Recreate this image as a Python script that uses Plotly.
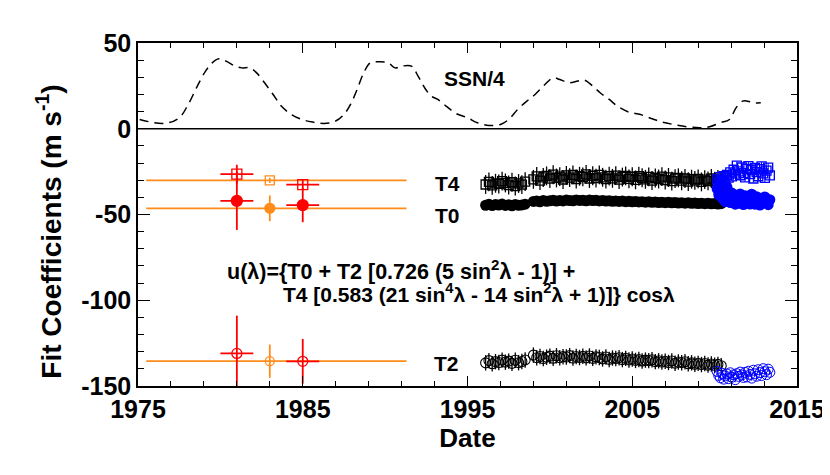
import plotly.graph_objects as go

# ---------------- data ----------------
ssn_year = [1975.1, 1976.6, 1977.5, 1978.05, 1978.6, 1979.1, 1979.5, 1979.9, 1980.35, 1980.9,
            1981.3, 1981.8, 1982.2, 1982.6, 1983.2, 1983.7, 1984.3, 1984.95, 1985.6, 1986.3,
            1987.0, 1987.5, 1987.9, 1988.3, 1988.7, 1989.1, 1989.7, 1990.2, 1990.6, 1991.0,
            1991.6, 1992.0, 1992.4, 1992.8, 1993.2, 1993.7, 1994.3, 1995.0, 1995.6, 1996.3,
            1997.0, 1997.5, 1998.05, 1998.6, 1999.1, 1999.7, 2000.2, 2000.6, 2001.2, 2001.7,
            2002.1, 2002.6, 2003.05, 2003.6, 2004.1, 2004.8, 2005.5, 2006.2, 2006.8, 2007.5,
            2008.3, 2009.1, 2009.7, 2010.35, 2010.9, 2011.3, 2011.7, 2012.0, 2012.4, 2012.8]
ssn_quarter = [5.4, 3.1, 6.4, 14.2, 24.9, 33.6, 38.4, 40.8, 39.4, 36.5,
               35.5, 35.5, 32.6, 27.8, 20.0, 13.2, 8.3, 5.4, 3.9, 3.1,
               4.5, 8.3, 14.2, 22.9, 32.6, 38.4, 39.0, 38.4, 35.5, 36.5,
               36.5, 30.7, 23.9, 19.0, 17.1, 13.2, 8.9, 6.4, 3.5, 1.9,
               2.5, 5.4, 11.3, 16.1, 20.0, 25.8, 29.7, 28.7, 26.8, 27.8,
               28.3, 24.9, 21.0, 17.1, 13.2, 9.7, 8.3, 5.8, 3.9, 2.5,
               1.2, 0.6, 1.2, 3.5, 5.4, 12.2, 16.1, 16.1, 15.1, 15.1]

# early ground-based fits (red) and their mean (orange)
red_year = [1981.0, 1985.0]
red_year_err = [1.0, 1.0]
red_t4 = [-26.5, -32.6]
red_t4_err = [5.5, 3.0]
red_t0 = [-42.0, -44.5]
red_t0_err = [17.0, 10.0]
red_t2 = [-131.0, -135.6]
red_t2_err = [22.0, 13.0]

orange_year = [1983.0]
orange_t4 = [-30.1]
orange_t4_err = [1.5]
orange_t0 = [-46.4]
orange_t0_err = [7.5]
orange_t2 = [-135.5]
orange_t2_err = [9.7]
orange_span = [1975.5, 1991.3]

# MDI (black)
mdi_year = [1996.1, 1996.3, 1996.5, 1996.7, 1996.9, 1997.1, 1997.3, 1997.5, 1997.7, 1997.9,
            1998.1, 1998.3, 1998.5,
            1999.0, 1999.2, 1999.4, 1999.6, 1999.8, 2000.0, 2000.2, 2000.4, 2000.6, 2000.8,
            2001.0, 2001.2, 2001.4, 2001.6, 2001.8, 2002.0, 2002.2, 2002.4, 2002.6, 2002.8,
            2003.0, 2003.2, 2003.4, 2003.6, 2003.8, 2004.0, 2004.2, 2004.4, 2004.6, 2004.8,
            2005.0, 2005.2, 2005.4, 2005.6, 2005.8, 2006.0, 2006.2, 2006.4, 2006.6, 2006.8,
            2007.0, 2007.2, 2007.4, 2007.6, 2007.8, 2008.0, 2008.2, 2008.4, 2008.6, 2008.8,
            2009.0, 2009.2, 2009.4, 2009.6, 2009.8, 2010.0, 2010.2, 2010.4]
mdi_t4 = [-32.5, -31.0, -33.0, -31.8, -32.2, -30.5, -31.6, -32.8, -31.2, -33.4,
          -31.9, -32.6, -30.8,
          -29.5, -27.8, -30.2, -28.4, -27.5, -29.1, -26.8, -28.7, -27.9, -29.6,
          -27.2, -28.5, -26.9, -29.3, -27.7, -28.1, -26.6, -29.0, -27.4, -28.8,
          -26.9, -28.3, -29.4, -27.6, -28.9, -27.3, -29.7, -28.2, -27.5, -29.2,
          -28.0, -29.8, -27.7, -28.6, -29.5, -28.1, -30.2, -28.7, -29.3, -27.9,
          -29.9, -28.4, -30.5, -29.1, -28.6, -30.3, -29.0, -30.8, -29.4, -30.1,
          -29.2, -31.0, -29.7, -30.4, -29.0, -30.6, -29.5, -30.9]
mdi_t0 = [-44.6, -44.0, -44.8, -44.2, -44.5, -43.9, -44.7, -44.3, -44.9, -44.1,
          -44.6, -44.4, -44.0,
          -42.4, -42.1, -42.6, -41.9, -42.3, -42.0, -41.7, -42.2, -41.8, -42.1,
          -41.6, -41.9, -42.0, -41.5, -41.8, -41.7, -42.0, -41.6, -41.9, -41.7,
          -42.1, -41.8, -42.2, -42.0, -42.3, -42.1, -42.4, -42.2, -42.5, -42.3,
          -42.6, -42.4, -42.7, -42.5, -42.8, -42.6, -42.9, -42.7, -43.0, -42.8,
          -43.1, -42.9, -43.2, -43.0, -43.3, -43.1, -43.4, -43.2, -43.5, -43.3,
          -43.6, -43.4, -43.7, -43.5, -43.8, -43.6, -43.9, -43.7]
mdi_t2 = [-136.5, -135.2, -137.0, -135.8, -136.3, -134.9, -136.1, -135.5, -136.8, -135.0,
          -136.4, -135.7, -134.8,
          -132.0, -133.5, -132.8, -134.0, -133.2, -132.6, -133.8, -132.4, -133.5, -132.9,
          -133.1, -132.3, -133.7, -132.8, -133.4, -132.7, -133.6, -132.5, -133.9, -133.0,
          -133.4, -134.2, -133.1, -134.5, -133.7, -134.0, -133.5, -134.6, -133.9, -134.8,
          -134.3, -135.1, -134.6, -135.4, -134.9, -135.2, -134.7, -135.8, -135.3, -136.0,
          -135.6, -136.3, -135.4, -136.7, -136.0, -136.4, -135.9, -137.0, -136.5, -137.3,
          -136.8, -137.5, -136.9, -137.8, -137.2, -137.9, -137.4, -138.2]
mdi_t4_err = 5.5
mdi_t2_err = 4.5

# HMI (blue)
hmi_year = [2010.15, 2010.25, 2010.35, 2010.45, 2010.55, 2010.65, 2010.75, 2010.85, 2010.95, 2011.05,
            2011.15, 2011.25, 2011.35, 2011.45, 2011.55, 2011.65, 2011.75, 2011.85, 2011.95, 2012.05,
            2012.15, 2012.25, 2012.35, 2012.45, 2012.55, 2012.65, 2012.75, 2012.85, 2012.95, 2013.05,
            2013.15, 2013.25, 2013.35]
hmi_t4 = [-29.5, -31.0, -28.2, -30.4, -27.6, -29.8, -26.9, -28.5, -25.4, -27.8,
          -23.9, -26.2, -21.5, -24.8, -27.1, -22.6, -25.9, -28.3, -23.4, -21.8,
          -26.5, -24.1, -29.0, -22.9, -25.3, -27.7, -23.6, -21.9, -26.0, -28.6,
          -24.4, -22.7, -27.2]
hmi_t0 = [-35.0, -38.5, -32.5, -40.5, -36.0, -42.5, -34.0, -39.5, -43.0, -37.5,
          -41.0, -44.0, -40.0, -43.5, -38.0, -41.5, -44.2, -39.0, -42.8, -40.5,
          -43.9, -38.2, -41.2, -44.0, -39.6, -42.3, -44.5, -40.8, -43.0, -39.8,
          -42.0, -44.3, -41.4]
hmi_t2 = [-141.5, -143.8, -145.2, -142.6, -146.0, -144.1, -143.0, -145.7, -142.3, -144.9,
          -143.5, -146.3, -142.8, -144.4, -141.9, -143.6, -145.0, -142.1, -144.7, -141.4,
          -143.2, -145.4, -140.8, -142.9, -144.3, -140.5, -142.2, -143.9, -139.9, -141.7,
          -143.4, -140.2, -142.0]
hmi_t4_err = 2.5
hmi_t2_err = 1.5

x_ticks = [1975, 1985, 1995, 2005, 2015]
y_ticks = [50, 0, -50, -100, -150]

# ---------------- figure ----------------
FONT = "Liberation Sans, Arial, Helvetica, sans-serif"
RED = "#FF0000"
ORANGE = "#FF8C1A"
BLUE = "#0000FF"

fig = go.Figure()

# SSN/4
fig.add_trace(go.Scatter(x=ssn_year, y=ssn_quarter, mode="lines",
                         line=dict(color="black", width=1.5, dash="9px,6px"),
                         line_shape="spline"))

# orange mean lines
for yy in (orange_t4, orange_t0, orange_t2):
    fig.add_trace(go.Scatter(x=orange_span, y=[yy[0], yy[0]], mode="lines",
                             line=dict(color=ORANGE, width=1.8)))

# MDI black
fig.add_trace(go.Scatter(x=mdi_year, y=mdi_t4, mode="markers",
                         marker=dict(symbol="square-open", size=9, color="black", line=dict(width=1.3)),
                         error_y=dict(type="constant", value=mdi_t4_err, color="black", thickness=1.3, width=0)))
fig.add_trace(go.Scatter(x=mdi_year, y=mdi_t0, mode="markers",
                         marker=dict(symbol="circle", size=11, color="black")))
fig.add_trace(go.Scatter(x=mdi_year, y=mdi_t2, mode="markers",
                         marker=dict(symbol="circle-open", size=10, color="black", line=dict(width=1.1)),
                         error_y=dict(type="constant", value=mdi_t2_err, color="black", thickness=1.3, width=0)))

# HMI blue
fig.add_trace(go.Scatter(x=hmi_year, y=hmi_t4, mode="markers",
                         marker=dict(symbol="square-open", size=9, color=BLUE, line=dict(width=1.3)),
                         error_y=dict(type="constant", value=hmi_t4_err, color=BLUE, thickness=1, width=0)))
fig.add_trace(go.Scatter(x=hmi_year, y=hmi_t0, mode="markers",
                         marker=dict(symbol="circle", size=11, color=BLUE)))
fig.add_trace(go.Scatter(x=hmi_year, y=hmi_t2, mode="markers",
                         marker=dict(symbol="circle-open", size=10, color=BLUE, line=dict(width=1)),
                         error_y=dict(type="constant", value=hmi_t2_err, color=BLUE, thickness=1, width=0)))

# orange points
for yy, ee, sym in ((orange_t4, orange_t4_err, "square-open"),
                    (orange_t0, orange_t0_err, "circle"),
                    (orange_t2, orange_t2_err, "circle-open")):
    fig.add_trace(go.Scatter(x=orange_year, y=yy, mode="markers",
                             marker=dict(symbol=sym, size=9 if sym != "circle" else 10, color=ORANGE,
                                         line=dict(width=1.3, color=ORANGE)),
                             error_y=dict(type="data", array=ee, color=ORANGE, thickness=1.8, width=0)))

# red points
for yy, ee, sym in ((red_t4, red_t4_err, "square-open"),
                    (red_t0, red_t0_err, "circle"),
                    (red_t2, red_t2_err, "circle-open")):
    fig.add_trace(go.Scatter(x=red_year, y=yy, mode="markers",
                             marker=dict(symbol=sym, size=10 if sym != "circle" else 11, color=RED,
                                         line=dict(width=1.3, color=RED)),
                             error_y=dict(type="data", array=ee, color=RED, thickness=1.8, width=0),
                             error_x=dict(type="data", array=red_year_err, color=RED, thickness=1.8, width=0)))

# zero line separating panels
fig.add_shape(type="line", xref="paper", x0=0, x1=1, yref="y", y0=0, y1=0,
              line=dict(color="black", width=1.5))

txt = dict(family=FONT, size=21, color="black", weight="bold")
fig.add_annotation(x=1995.4, y=29.3, text="SSN/4", showarrow=False, font=txt)
fig.add_annotation(x=1993.8, y=-31.7, text="T4", showarrow=False, font=txt)
fig.add_annotation(x=1993.8, y=-50.3, text="T0", showarrow=False, font=txt)
fig.add_annotation(x=1993.7, y=-136.6, text="T2", showarrow=False, font=txt)
fig.add_annotation(x=1980.3, y=-82.5, xanchor="left",
                   text="u(λ)={T0 + T2 [0.726 (5 sin<sup>2</sup>λ - 1)] +",
                   showarrow=False, font=dict(family=FONT, size=21.5, color="black", weight="bold"))
fig.add_annotation(x=1983.65, y=-95.5, xanchor="left",
                   text="T4 [0.583 (21 sin<sup>4</sup>λ - 14 sin<sup>2</sup>λ + 1)]} cosλ",
                   showarrow=False, font=txt)

# y-axis title (placed as in the reference, slightly below centre)
fig.add_annotation(xref="paper", yref="paper", x=-0.135, y=0.45, xanchor="center", yanchor="middle",
                   textangle=-90, text="Fit Coefficients (m s<sup>-1</sup>)", showarrow=False,
                   font=dict(family=FONT, size=28, color="black", weight="bold"))

axis_common = dict(showline=True, linecolor="black", linewidth=1.5, mirror="ticks",
                   ticks="inside", tickcolor="black", tickwidth=1.2, showgrid=False, zeroline=False,
                   automargin=False,
                   tickfont=dict(family=FONT, size=25, color="black", weight="bold"))

fig.update_xaxes(range=[1975, 2015], tickvals=x_ticks, ticktext=[str(v) for v in x_ticks],
                 ticklen=10,
                 minor=dict(ticks="inside", ticklen=5, dtick=2, tick0=1975, tickcolor="black", tickwidth=1),
                 title=dict(text="Date", font=dict(family=FONT, size=26, color="black", weight="bold"),
                            standoff=2),
                 **axis_common)
fig.update_yaxes(range=[-150, 50], tickvals=y_ticks, ticktext=[str(v) for v in y_ticks],
                 ticklen=12,
                 minor=dict(ticks="inside", ticklen=6, dtick=10, tick0=0, tickcolor="black", tickwidth=1),
                 **axis_common)

# the page body adds an 8 px offset, so the figure is sized to fit inside the window
fig.update_layout(width=822, height=467, margin=dict(l=130, r=33, t=35, b=89, autoexpand=False),
                  plot_bgcolor="white", paper_bgcolor="white", showlegend=False)

fig.write_html("out.html")
